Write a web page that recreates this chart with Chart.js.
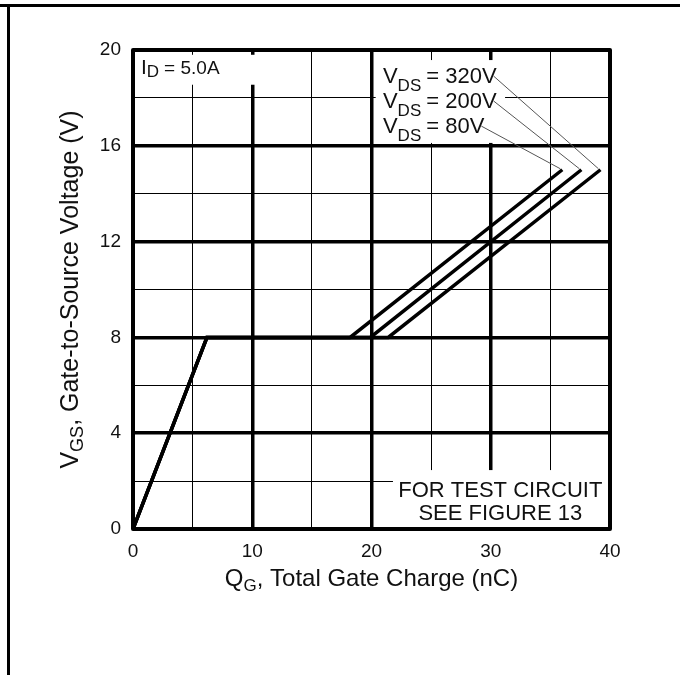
<!DOCTYPE html>
<html>
<head>
<meta charset="utf-8">
<title>Gate Charge</title>
<script src="https://cdn.jsdelivr.net/npm/chart.js@4.4.1/dist/chart.umd.min.js"></script>
<style>
  html, body { margin: 0; padding: 0; background: #fff; }
  #wrap { position: relative; width: 680px; height: 675px; overflow: hidden; background: #fff; }
  #topRule { position: absolute; left: 0; top: 4px; width: 680px; height: 3px; background: #000; }
  #leftRule { position: absolute; left: 7px; top: 4px; width: 3px; height: 671px; background: #000; }
  #c { position: absolute; left: 0; top: 0; }
</style>
</head>
<body>
<div id="wrap">
  <div id="topRule"></div>
  <div id="leftRule"></div>
  <canvas id="c" width="680" height="675"></canvas>
</div>
<script>
// Gate-to-source voltage vs. total gate charge, ID = 5.0 A
const vdsLabels = ['320V', '200V', '80V'];
const rampQg = [0, 6.2];                  // nC
const rampVgs = [0, 8];                   // V
const plateauVgs = 8;                     // V (Miller plateau)
const plateauEndQg = [21.4, 19.9, 18.2];  // nC, per VDS
const finalQg = [39.2, 37.6, 36.0];       // nC, per VDS
const finalVgs = 15;                      // V
const xTicks = [0, 10, 20, 30, 40];
const yTicks = [0, 4, 8, 12, 16, 20];

const FONT = '"Liberation Sans", Arial, Helvetica, sans-serif';
const INK = '#111';

const datasets = vdsLabels.map((lbl, i) => ({
  label: 'VDS = ' + lbl,
  data: [
    { x: rampQg[0], y: rampVgs[0] },
    { x: rampQg[1], y: rampVgs[1] },
    { x: plateauEndQg[i], y: plateauVgs },
    { x: finalQg[i], y: finalVgs }
  ],
  borderColor: '#000',
  borderWidth: 3.5,
  pointRadius: 0,
  tension: 0,
  fill: false
}));

// White panels behind the in-plot notes (data units)
const notePanels = [
  { x0: 0, x1: 10.8, y0: 18.55, y1: 19.8 },
  { x0: 20.35, x1: 31.2, y0: 16.12, y1: 19.58 },
  { x0: 21.8, x1: 40, y0: 0, y1: 2.46 }
];

function partsWidth(ctx, parts) {
  let w = 0;
  for (const p of parts) {
    ctx.font = p.size + 'px ' + FONT;
    w += ctx.measureText(p.t).width + (p.gap || 0);
  }
  return w;
}
function drawParts(ctx, parts, x, y) {
  let cx = x;
  for (const p of parts) {
    ctx.font = p.size + 'px ' + FONT;
    ctx.fillText(p.t, cx, y + (p.dy || 0));
    cx += ctx.measureText(p.t).width + (p.gap || 0);
  }
  return cx;
}

const panelPlugin = {
  id: 'notePanels',
  beforeDatasetsDraw(chart) {
    const { ctx, scales: { x, y } } = chart;
    ctx.save();
    ctx.fillStyle = '#fff';
    for (const b of notePanels) {
      const px0 = x.getPixelForValue(b.x0), px1 = x.getPixelForValue(b.x1);
      const py0 = y.getPixelForValue(b.y1), py1 = y.getPixelForValue(b.y0);
      ctx.fillRect(px0, py0, px1 - px0, py1 - py0);
    }
    ctx.restore();
  }
};

const framePlugin = {
  id: 'plotFrame',
  afterDraw(chart) {
    const { ctx, chartArea: a, scales: { x, y } } = chart;
    ctx.save();
    // plot box
    ctx.strokeStyle = '#000';
    ctx.lineWidth = 4;
    ctx.lineJoin = 'round';
    ctx.strokeRect(a.left, a.top, a.right - a.left, a.bottom - a.top);

    ctx.fillStyle = INK;
    ctx.textBaseline = 'alphabetic';
    ctx.textAlign = 'left';

    // ID note
    drawParts(ctx, [
      { t: 'I', size: 21 },
      { t: 'D', size: 17, dy: 3, gap: 5 },
      { t: '= 5.0A', size: 19 }
    ], x.getPixelForValue(0.67), y.getPixelForValue(19.0));

    // VDS notes with leader lines to curve ends
    const rowBase = [18.62, 17.58, 16.53];
    vdsLabels.forEach((lbl, i) => {
      const bx = x.getPixelForValue(20.96), by = y.getPixelForValue(rowBase[i]);
      ctx.fillStyle = INK;
      const endX = drawParts(ctx, [
        { t: 'V', size: 22 },
        { t: 'DS', size: 17, dy: 8, gap: 5 },
        { t: '= ' + lbl, size: 22 }
      ], bx, by);
      ctx.strokeStyle = '#555';
      ctx.lineWidth = 1;
      ctx.beginPath();
      ctx.moveTo(endX - 3, by - 7);
      ctx.lineTo(x.getPixelForValue(finalQg[i]) - 2, y.getPixelForValue(finalVgs) - 1);
      ctx.stroke();
    });

    // test circuit note
    ctx.fillStyle = INK;
    ctx.textAlign = 'center';
    ctx.font = '22px ' + FONT;
    const cx = x.getPixelForValue(30.8);
    ctx.fillText('FOR TEST CIRCUIT', cx, y.getPixelForValue(1.34));
    ctx.fillText('SEE FIGURE 13', cx, y.getPixelForValue(0.38));
    ctx.textAlign = 'left';

    // x-axis title
    const xParts = [
      { t: 'Q', size: 24 },
      { t: 'G', size: 17, dy: 5 },
      { t: ', Total Gate Charge (nC)', size: 24 }
    ];
    const xw = partsWidth(ctx, xParts);
    drawParts(ctx, xParts, (a.left + a.right) / 2 - xw / 2, 586);

    // y-axis title
    const yParts = [
      { t: 'V', size: 25 },
      { t: 'GS', size: 18, dy: 5 },
      { t: ', Gate-to-Source Voltage (V)', size: 25 }
    ];
    const yw = partsWidth(ctx, yParts);
    ctx.translate(78, (a.top + a.bottom) / 2);
    ctx.rotate(-Math.PI / 2);
    drawParts(ctx, yParts, -yw / 2, 0);
    ctx.restore();
  }
};

new Chart(document.getElementById('c'), {
  type: 'line',
  data: { datasets },
  options: {
    responsive: false,
    animation: false,
    devicePixelRatio: 1,
    layout: { padding: { top: 50, right: 70, left: 0, bottom: 0 } },
    plugins: { legend: { display: false }, tooltip: { enabled: false } },
    scales: {
      x: {
        type: 'linear',
        min: 0, max: 40,
        afterFit(s) { s.height = 146; },
        border: { display: false },
        grid: {
          drawTicks: false,
          color: '#000',
          lineWidth: c => (c.tick && xTicks.includes(c.tick.value)) ? 3.5 : 1
        },
        ticks: {
          stepSize: 5, autoSkip: false, maxRotation: 0, padding: 11,
          color: INK, font: { family: FONT, size: 19 },
          callback: v => xTicks.includes(v) ? String(v) : ''
        }
      },
      y: {
        type: 'linear',
        min: 0, max: 20,
        afterFit(s) { s.width = 133; },
        border: { display: false },
        grid: {
          drawTicks: false,
          color: '#000',
          lineWidth: c => (c.tick && yTicks.includes(c.tick.value)) ? 3.5 : 1
        },
        ticks: {
          stepSize: 2, autoSkip: false, padding: 12,
          color: INK, font: { family: FONT, size: 19 },
          callback: v => yTicks.includes(v) ? String(v) : ''
        }
      }
    }
  },
  plugins: [panelPlugin, framePlugin]
});
</script>
</body>
</html>
